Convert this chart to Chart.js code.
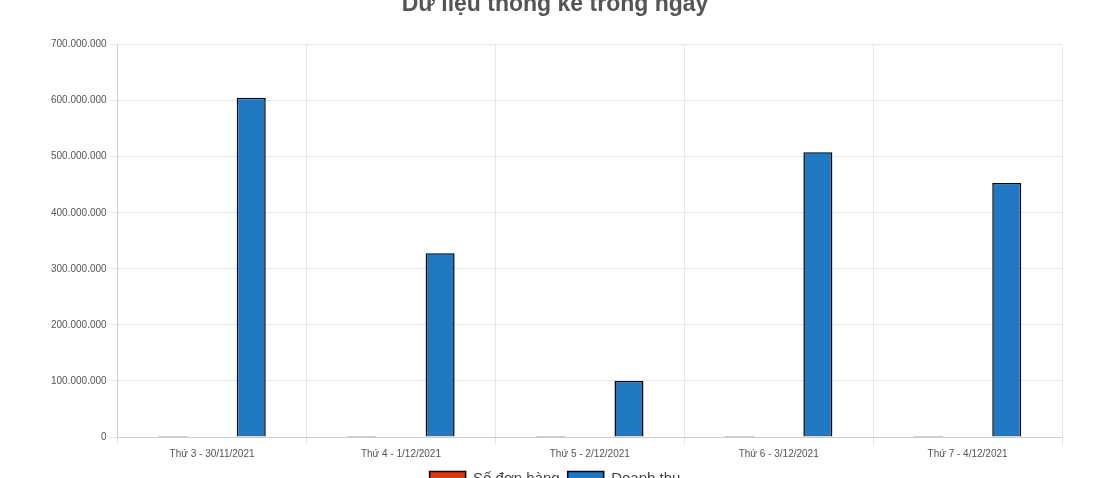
<!DOCTYPE html>
<html><head><meta charset="utf-8">
<script src="https://cdn.jsdelivr.net/npm/chart.js@4/dist/chart.umd.min.js"></script>
<style>html,body{margin:0;padding:0;background:#fff;overflow:hidden}
#w{position:absolute;left:0;top:-9px;width:1117px;height:505px}</style>
</head><body><div id="w"><canvas id="c"></canvas></div>
<script>
const categories=["Thứ 3 - 30/11/2021","Thứ 4 - 1/12/2021","Thứ 5 - 2/12/2021","Thứ 6 - 3/12/2021","Thứ 7 - 4/12/2021"];
const soDonHang=[6,3,1,5,4];
const doanhThu=[605000000,328000000,100000000,508000000,453000000];
new Chart(document.getElementById('c'),{type:'bar',
data:{labels:categories,datasets:[
{label:'Số đơn hàng',data:soDonHang,backgroundColor:'#dc3912',borderColor:'#000',borderWidth:1.5},
{label:'Doanh thu',data:doanhThu,backgroundColor:'#1f78c1',borderColor:'#000',borderWidth:1.5}]},
options:{responsive:true,maintainAspectRatio:false,animation:false,
layout:{padding:{left:48,right:55,top:0,bottom:0}},
datasets:{bar:{categoryPercentage:0.83,barPercentage:0.37}},
plugins:{title:{display:true,text:'Dữ liệu thống kê trong ngày',color:'#555',font:{family:'Arial, Liberation Sans',size:23,weight:'bold'},padding:{top:0,bottom:26}},
legend:{position:'bottom',labels:{padding:8,boxWidth:36,boxHeight:14,color:'#444',font:{family:'Liberation Sans',size:15}}}},
scales:{x:{grid:{color:'#e6e6e6'},ticks:{color:'#555',font:{size:10,family:'Liberation Sans'}}},
y:{min:0,max:700000000,grid:{color:'#e6e6e6'},ticks:{stepSize:100000000,color:'#555',font:{size:10,family:'Liberation Sans'},callback:v=>v.toLocaleString('de-DE')}}}}});
</script></body></html>
